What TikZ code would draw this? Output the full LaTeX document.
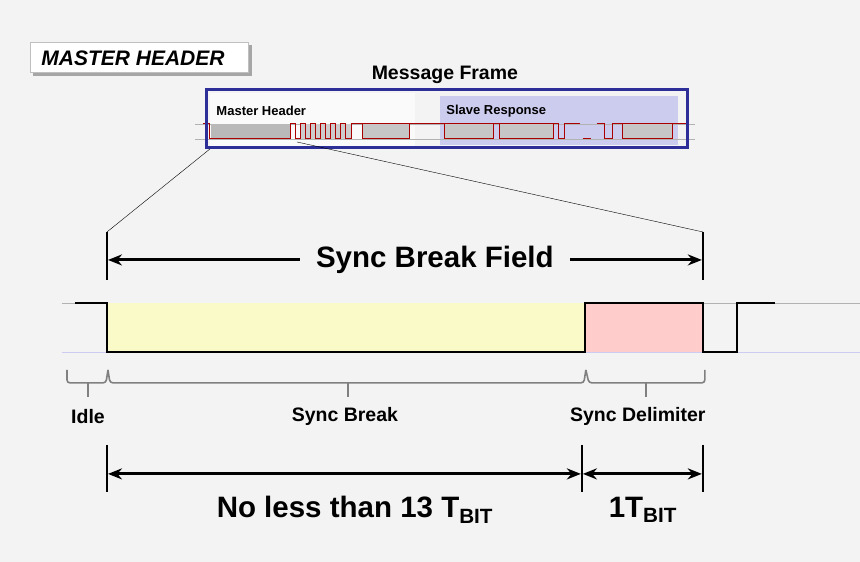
\documentclass[tikz,border=0pt]{standalone}
\usepackage{fontspec}
\setmainfont{Liberation Sans}
\usetikzlibrary{arrows.meta}
\definecolor{bg}{HTML}{F3F3F3}
\definecolor{frameblue}{HTML}{2E2E99}
\definecolor{lav}{HTML}{CCCCEE}
\definecolor{sig}{HTML}{AA0000}
\definecolor{yel}{HTML}{FAFAC8}
\definecolor{pinkf}{HTML}{FFCCCC}
\begin{document}
\begin{tikzpicture}[x=1pt,y=-1pt,
  lbl/.style={font=\bfseries\fontsize{19.5}{21}\selectfont},
  big/.style={font=\bfseries\fontsize{29.5}{31}\selectfont},
  dim/.style={line width=3pt,-{Stealth[length=14pt,width=11pt]}},
  bar/.style={line width=2.5pt},
  brc/.style={gray,line width=1.6pt,rounded corners=3pt},
  red/.style={sig,line width=1pt},
  gbox/.style={fill=gray!45,draw=sig,line width=1pt}]
\fill[bg] (0,0) rectangle (860,562);
% master header button
\fill[gray!70] (33,45) rectangle (252,76);
\node[draw=gray!50,fill=white,minimum width=218pt,minimum height=30pt,anchor=north west,inner sep=0pt] (mh) at (30,42) {};
\node[font=\bfseries\itshape\fontsize{21}{23}\selectfont] (mht) at (133,58) {MASTER HEADER};
% message frame
\node[font=\bfseries\fontsize{19.5}{21}\selectfont] (mf) at (445,75) {Message Frame};
\fill[white!60!bg] (210,93) rectangle (415,146);
\fill[lav] (440,96) rectangle (678,145);
\draw[gray!60] (195,124) -- (695,124) (195,139) -- (695,139);
\node[anchor=west,font=\bfseries\fontsize{13}{15}\selectfont] (mhl) at (213,111) {Master Header};
\node[anchor=west,font=\bfseries\fontsize{13}{15}\selectfont] (srl) at (443,111) {Slave Response};
\fill[gray!55] (211,124) rectangle (290,139);
\fill[gray!40] (301,124) rectangle (352,139);
\draw[red] (203,124) -- (210,124) -- (210,139) -- (291,139) -- (291,124) -- (296,124) -- (296,139)
  -- (301,139) -- (301,124) -- (306,124) -- (306,139) -- (311,139) -- (311,124) -- (316,124) -- (316,139)
  -- (321,139) -- (321,124) -- (326,124) -- (326,139) -- (331,139) -- (331,124) -- (336,124) -- (336,139)
  -- (341,139) -- (341,124) -- (346,124) -- (346,139) -- (352,139) -- (352,124) -- (363,124);
\draw[gbox] (363,124) rectangle (410,139);
\draw[red] (410,124) -- (445,124);
\draw[gbox] (445,124) rectangle (494,139);
\draw[red] (494,124) -- (500,124);
\draw[gbox] (500,124) rectangle (554,139);
\draw[red] (554,124) -- (559,124) -- (559,139) -- (565,139) -- (565,124) -- (580,124);
\draw[red] (583,139) -- (591,139) (597,124) -- (605,124) -- (605,139) -- (613,139) -- (613,124) -- (623,124);
\draw[gbox] (623,124) rectangle (673,139);
\draw[red] (673,124) -- (688,124);
\draw[frameblue,line width=3pt] (207,90) rectangle (688,148);
\coordinate (fa) at (210,149);
\coordinate (fb) at (297,142);
% zoom lines
\coordinate (ta) at (107,232);
\coordinate (tb) at (703,232);
\draw (fa) -- (ta);
\draw (fb) -- (tb);
% sync break field
\draw[bar] (107,232) -- (107,280);
\draw[bar] (703,232) -- (703,280);
\node[big] (sbf) at (435,260) {Sync Break Field};
\draw[dim] (300,260) -- (108,260);
\draw[dim] (570,260) -- (702,260);
% waveform
\draw[gray!60] (62,303) -- (860,303);
\draw[lav] (62,352) -- (860,352);
\fill[yel] (107,303) rectangle (585,352);
\fill[pinkf] (585,303) rectangle (703,352);
\draw[line width=2.5pt,line join=miter] (75,303) -- (107,303) -- (107,352) -- (585,352) -- (585,303) -- (703,303)
  -- (703,352) -- (737,352) -- (737,303) -- (775,303);
% braces
\draw[brc] (67,370) -- (67,383) -- (106,383) -- (108,370);
\draw[brc] (88,383) -- (88,397);
\draw[brc] (108,370) -- (110,383) -- (584,383) -- (586,370);
\draw[brc] (348,383) -- (348,397);
\draw[brc] (586,370) -- (589,383) -- (705,383) -- (705,370);
\draw[brc] (646,383) -- (646,397);
\node[lbl] (idle) at (88,417) {Idle};
\node[lbl] (sb) at (345,417) {Sync Break};
\node[lbl] (sd) at (638,417) {Sync Delimiter};
% bottom dims
\draw[bar] (107,445) -- (107,492);
\draw[bar] (582,445) -- (582,492);
\draw[bar] (703,445) -- (703,492);
\draw[line width=3pt,{Stealth[length=14pt,width=11pt]}-{Stealth[length=14pt,width=11pt]}] (108,474) -- (581,474);
\draw[line width=3pt,{Stealth[length=14pt,width=11pt]}-{Stealth[length=14pt,width=11pt]}] (583,474) -- (702,474);
\node[big] (nl) at (355,510) {No less than 13 T\textsubscript{BIT}};
\node[big] (one) at (643,510) {1T\textsubscript{BIT}};
\end{tikzpicture}
\end{document}
